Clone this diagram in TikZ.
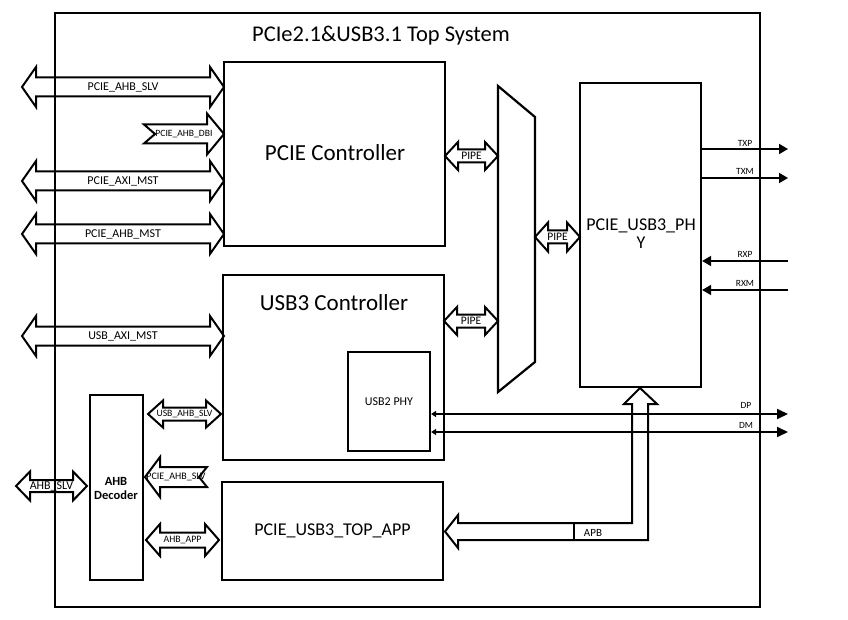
\documentclass[tikz,border=0pt]{standalone}
\usepackage{fontspec}
\setmainfont{Carlito}
\usetikzlibrary{arrows.meta}
% double fat arrow: x1 x2 y halfshaft halfhead headlen fontsize text
\newcommand\dfat[8]{%
  \draw[fat] (#1,#3) -- ({#1+#6},{#3-#5}) -- ({#1+#6},{#3-#4}) -- ({#2-#6},{#3-#4}) -- ({#2-#6},{#3-#5}) -- (#2,#3) -- ({#2-#6},{#3+#5}) -- ({#2-#6},{#3+#4}) -- ({#1+#6},{#3+#4}) -- ({#1+#6},{#3+#5}) -- cycle;
  \node[lbl,font=\fontsize{#7}{#7}\selectfont] at ({(#1+#2)/2},#3) {#8};}
% single fat arrow with notched tail: xtail xtip y halfshaft halfhead headlen(signed) notch(signed) fontsize text
\newcommand\sfat[9]{%
  \draw[fat] (#1,{#3-#4}) -- ({#2-#6},{#3-#4}) -- ({#2-#6},{#3-#5}) -- (#2,#3) -- ({#2-#6},{#3+#5}) -- ({#2-#6},{#3+#4}) -- (#1,{#3+#4}) -- ({#1+#7},#3) -- cycle;
  \node[lbl,font=\fontsize{#8}{#8}\selectfont] at ({(#1+#2)/2},#3) {#9};}
\begin{document}
\begin{tikzpicture}[x=1pt,y=-1pt,
  box/.style={draw, line width=2.2pt, inner sep=0pt},
  fat/.style={draw, line width=2pt, line join=miter},
  lbl/.style={inner sep=0pt},
  sig/.style={line width=1.8pt},
  small/.style={inner sep=0pt, font=\fontsize{9.5}{9.5}\selectfont},
  ]
\fill[white] (0,0) rectangle (848,620);
\useasboundingbox (0,0) rectangle (848,620);

% outer system box
\node[box, minimum width=705pt, minimum height=594pt] (sys) at (407.5,310) {};
\node[lbl, font=\fontsize{22.5}{22.5}\selectfont] (title) at (381,36) {PCIe2.1\&USB3.1 Top System};

% main blocks
\node[box, minimum width=221pt, minimum height=184pt] (pcie) at (334.5,154) {};
\node[lbl, font=\fontsize{23}{23}\selectfont] (pcielbl) at (335,153) {PCIE Controller};
\node[box, minimum width=221pt, minimum height=185pt] (usb3) at (333.5,367.5) {};
\node[lbl, font=\fontsize{23}{23}\selectfont] (usb3lbl) at (334,303) {USB3 Controller};
\node[box, minimum width=82pt, minimum height=99pt, font=\fontsize{12}{12}\selectfont] (usb2phy) at (389,401.5) {USB2 PHY};
\node[box, minimum width=221pt, minimum height=98pt, font=\fontsize{18}{18}\selectfont] (topapp) at (332.5,531) {PCIE\_USB3\_TOP\_APP};
\node[box, minimum width=53pt, minimum height=185pt] (dec) at (116.5,487.5) {};
\node[lbl, font=\bfseries\fontsize{12.5}{14}\selectfont, align=center] (declbl) at (116,488) {AHB\\Decoder};
\node[box, minimum width=121pt, minimum height=304pt] (phy) at (640.5,235) {};
\node[lbl, font=\fontsize{18}{18}\selectfont, align=center] (phylbl) at (641,234) {PCIE\_USB3\_PH\\Y};

% mux
\draw[line width=2.2pt, line join=miter] (498,86) coordinate (muxtl) -- (535,117) -- (535,362) -- (498,392) -- cycle;

% left fat arrows
\dfat{22}{224}{87}{9.5}{20}{14}{12}{PCIE\_AHB\_SLV}
\sfat{144}{224}{134}{9.5}{20.5}{17}{11}{9.6}{PCIE\_AHB\_DBI}
\dfat{22}{224}{181}{9.5}{20}{14}{12}{PCIE\_AXI\_MST}
\dfat{22}{224}{234}{9.5}{20}{14}{12}{PCIE\_AHB\_MST}
\dfat{22}{224}{336}{9.5}{20}{14}{12}{USB\_AXI\_MST}

% PIPE arrows
\dfat{445}{498}{156}{6.5}{14}{13}{11.5}{PIPE}
\dfat{535}{580}{237}{6.5}{14.5}{13}{11.5}{PIPE}
\dfat{444}{498}{321}{6.5}{14}{13}{11.5}{PIPE}

% AHB decoder arrows
\dfat{16}{87}{486}{6}{14.5}{14}{12}{AHB\_SLV}
\dfat{148}{221}{414}{6.5}{13.5}{15}{9.7}{USB\_AHB\_SLV}
\sfat{207}{145}{477}{10}{20}{-15}{-8}{10}{PCIE\_AHB\_SLV}
\dfat{146}{219}{540}{7.5}{16}{14}{9.8}{AHB\_APP}

% TX / RX
\coordinate (txp) at (788,149);
\coordinate (txm) at (788,178);
\coordinate (rxp) at (788,261);
\coordinate (rxm) at (788,290);
\draw[sig,-{Triangle[length=9pt,width=10pt]}] (phy.east |- txp) -- (txp);
\draw[sig,-{Triangle[length=9pt,width=10pt]}] (phy.east |- txm) -- (txm);
\draw[sig,-{Triangle[length=9pt,width=10pt]}] (rxp) -- (phy.east |- rxp);
\draw[sig,-{Triangle[length=9pt,width=10pt]}] (rxm) -- (phy.east |- rxm);
\node[small] (txplbl) at (745,143) {TXP};
\node[small] (txmlbl) at (745,171) {TXM};
\node[small] (rxplbl) at (745,254) {RXP};
\node[small] (rxmlbl) at (745,283) {RXM};

% DP / DM
\coordinate (dp) at (788,414);
\coordinate (dm) at (788,432);
\draw[sig,{Triangle[length=5pt,width=6pt]}-{Triangle[length=11pt,width=10pt]}] (usb2phy.east |- dp) -- (dp);
\draw[sig,{Triangle[length=5pt,width=6pt]}-{Triangle[length=11pt,width=10pt]}] (usb2phy.east |- dm) -- (dm);
\node[small] (dplbl) at (746,405) {DP};
\node[small] (dmlbl) at (746,425) {DM};

% APB elbow fat arrow
\draw[fat] (640,388) -- (657,404) -- (648,404) -- (648,540) -- (458,540) -- (458,548) -- (445,531.5) -- (458,515) -- (458,523) -- (632,523) -- (632,404) -- (624,404) -- cycle;
\draw[line width=1.8pt] (574,523) -- (574,540);
\node[lbl, font=\fontsize{11}{11}\selectfont] (apb) at (593,533) {APB};

\end{tikzpicture}
\end{document}
